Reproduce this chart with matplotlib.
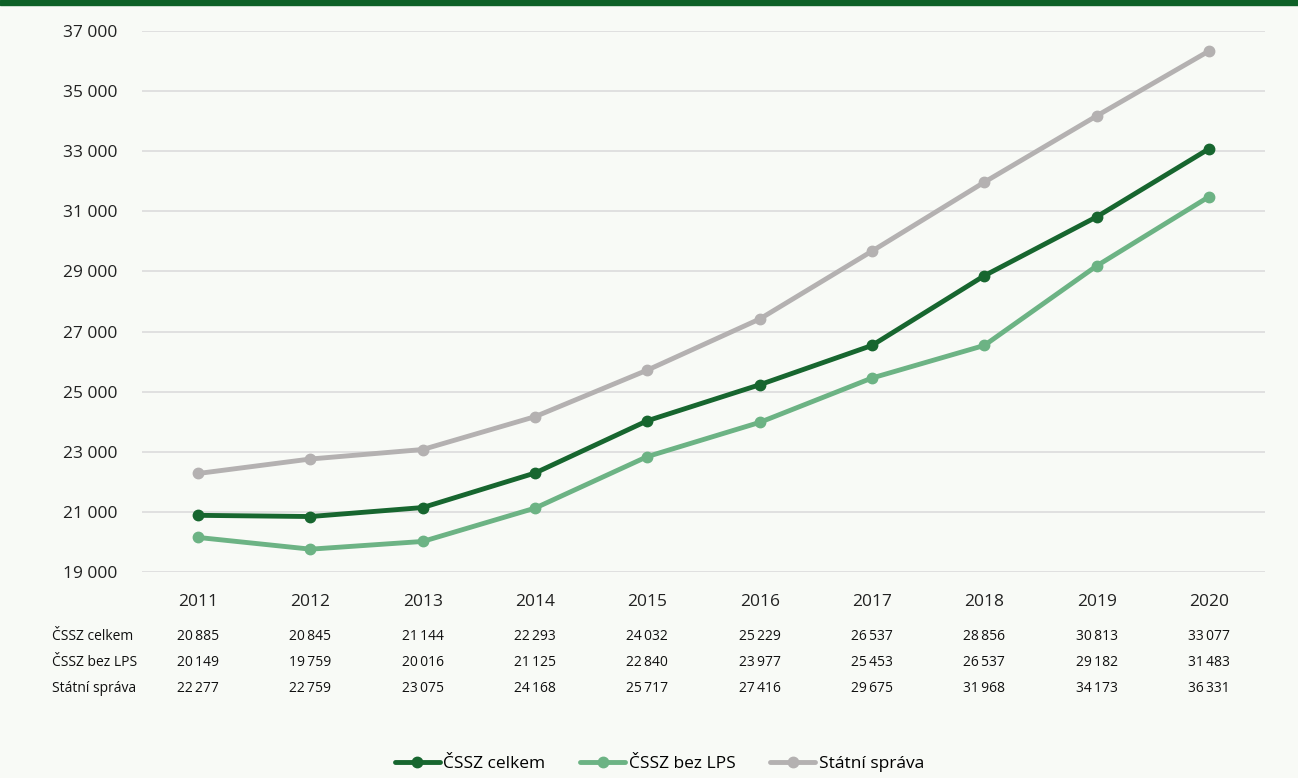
import matplotlib.pyplot as plt
import numpy as np

plt.rcParams['font.family'] = ['Open Sans', 'DejaVu Sans']

years = ['2011', '2012', '2013', '2014', '2015', '2016', '2017', '2018', '2019', '2020']
series_names = ['ČSSZ celkem', 'ČSSZ bez LPS', 'Státní správa']
cssz_celkem = [20885, 20845, 21144, 22293, 24032, 25229, 26537, 28856, 30813, 33077]
cssz_bez_lps = [20149, 19759, 20016, 21125, 22840, 23977, 25453, 26537, 29182, 31483]
statni_sprava = [22277, 22759, 23075, 24168, 25717, 27416, 29675, 31968, 34173, 36331]
y_ticks = [19000, 21000, 23000, 25000, 27000, 29000, 31000, 33000, 35000, 37000]

colors = ['#17662f', '#6cb384', '#b4b1b1']
bg = '#f8faf6'


def fmt(v):
    return '{:,}'.format(v).replace(',', '\u2009')


def fmt_tick(v):
    return '{:,}'.format(v).replace(',', ' ')


fig = plt.figure(figsize=(12.98, 7.78), dpi=100, facecolor=bg)
ax = fig.add_axes([0.1094, 0.2648, 0.8652, 0.6954])
ax.set_facecolor(bg)

x = np.arange(len(years))
all_series = [cssz_celkem, cssz_bez_lps, statni_sprava]
# grey first so the green lines sit on top
for vals, name, c in zip(all_series[::-1], series_names[::-1], colors[::-1]):
    ax.plot(x, vals, color=c, lw=3.5, marker='o', ms=7.5, label=name, solid_capstyle='round')

ax.set_xlim(-0.5, len(years) - 0.5)
ax.set_ylim(19000, 37000)
ax.set_yticks(y_ticks)
ax.set_yticklabels([fmt_tick(t) for t in y_ticks], fontsize=12.5, color='#222222')
ax.set_xticks(x)
ax.set_xticklabels(years, fontsize=12.5, color='#222222')
ax.tick_params(axis='x', length=0, pad=16)
ax.tick_params(axis='y', length=0, pad=18)
ax.grid(axis='y', color='#dedede', lw=1.3)
ax.set_axisbelow(True)
for s in ax.spines.values():
    s.set_visible(False)

# table under the chart
row_y = [636, 662, 688]
for name, vals, yy in zip(series_names, all_series, row_y):
    fy = 1 - yy / 778
    fig.text(52 / 1298, fy, name, fontsize=10, va='center', ha='left', color='#111111')
    for i, v in enumerate(vals):
        px = ax.transData.transform((i, 0))[0] / 1298
        fig.text(px, fy, fmt(v), fontsize=10, va='center', ha='center', color='#111111')

# legend
handles, labels = ax.get_legend_handles_labels()
fig.legend(handles[::-1], labels[::-1], loc='center', bbox_to_anchor=(0.508, 1 - 764 / 778),
           ncol=3, frameon=False, fontsize=12.5, handlelength=2.6, handletextpad=0.2,
           columnspacing=2.0)

# dark green bar on top
fig.patches.append(plt.Rectangle((0, 1 - 5 / 778), 1, 5 / 778, transform=fig.transFigure,
                                 color='#0e6127', zorder=10))

fig.savefig('out.png', dpi=100, facecolor=bg)
